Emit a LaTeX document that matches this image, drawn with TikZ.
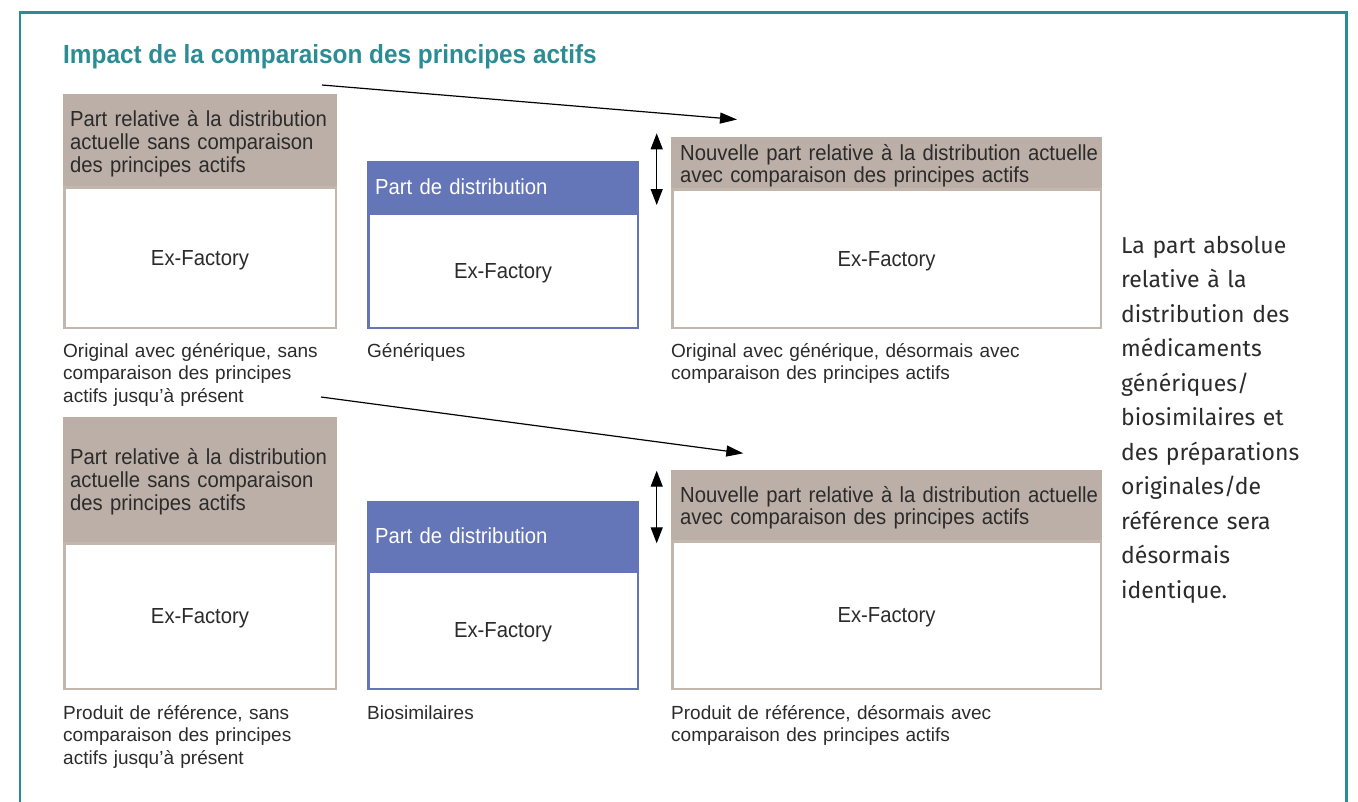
\documentclass[tikz,border=0pt]{standalone}
\usepackage{fontspec}
\setmainfont[FakeStretch=0.93]{Liberation Sans}
\newfontfamily\capfont{Liberation Sans}
\newfontfamily\sidefont{Fira Sans}
\usetikzlibrary{arrows.meta}

\definecolor{frameteal}{HTML}{2B8C93}
\definecolor{hdrbrown}{HTML}{BCAFA7}
\definecolor{edgebrown}{HTML}{C2B6AD}
\definecolor{hdrblue}{HTML}{6475B8}
\definecolor{inkgray}{HTML}{2B2B2B}

\begin{document}
\begin{tikzpicture}[x=1pt,y=-1pt,
  hdrbox/.style={rectangle, anchor=north west, inner sep=0pt, outer sep=0pt, fill=#1},
  bodybox/.style={rectangle, anchor=north, draw=#1, line width=2.5pt, fill=white,
    inner sep=0pt, text depth=0pt, text=inkgray, font=\fontsize{21.8}{24}\selectfont},
  hdrtext/.style={anchor=base west, inner sep=0pt, text width=440pt, align=left,
    text=inkgray, font=\fontsize{21.8}{23.2}\selectfont},
  newtext/.style={hdrtext, font=\fontsize{21.8}{22}\selectfont},
  bluetext/.style={hdrtext, text=white},
  caption/.style={anchor=base west, inner sep=0pt, text width=400pt, align=left,
    text=inkgray, font=\capfont\fontsize{19}{22.7}\selectfont},
  conn/.style={-{Triangle[length=17pt,width=11pt]}, line width=1.2pt, draw=black},
  gap/.style={{Triangle[length=16pt,width=12pt]}-{Triangle[length=16pt,width=12pt]},
    line width=1.2pt, draw=black}
]
\useasboundingbox (0,0) rectangle (1358,801);

% outer frame, open at the bottom
\draw[frameteal, line width=2.5pt] (20,810) -- (20,12.5) -- (1346.5,12.5) -- (1346.5,810);

% title
\node[anchor=base west, inner sep=0pt, text=frameteal,
  font=\fontsize{26.2}{28}\selectfont\bfseries] (title) at (63,63.3)
  {Impact de la comparaison des principes actifs};

% ---------- upper row: originals / generics ----------
\node[hdrbox=hdrbrown, minimum width=274pt, minimum height=92pt] (hdrA) at (63,94) {};
\node[bodybox=edgebrown, minimum width=271.5pt, minimum height=140.5pt] (bodyA) at (hdrA.south) {Ex-Factory};
\node[hdrtext] (txtA) at (70,126)
  {Part relative à la distribution\\actuelle sans comparaison\\des principes actifs};

\node[hdrbox=hdrblue, minimum width=272pt, minimum height=51.5pt] (hdrB) at (367,161) {};
\node[bodybox=hdrblue, minimum width=269.5pt, minimum height=114pt] (bodyB) at (hdrB.south) {Ex-Factory};
\node[bluetext] (txtB) at (375,194) {Part de distribution};

\node[hdrbox=hdrbrown, minimum width=431pt, minimum height=51pt] (hdrC) at (671,137) {};
\node[bodybox=edgebrown, minimum width=428.5pt, minimum height=138.5pt] (bodyC) at (hdrC.south) {Ex-Factory};
\node[newtext] (txtC) at (680,160)
  {Nouvelle part relative à la distribution actuelle\\avec comparaison des principes actifs};

\node[caption] (capA) at (63,357)
  {Original avec générique, sans\\comparaison des principes\\actifs jusqu’à présent};
\node[caption] (capB) at (367,357) {Génériques};
\node[caption] (capC) at (671,357)
  {Original avec générique, désormais avec\\comparaison des principes actifs};

\coordinate (arrUpS) at (322,85);
\coordinate (arrUpE) at (737,119.5);
\draw[conn] (arrUpS) -- (arrUpE);
\coordinate (gapUpT) at (656.7,133.3);
\coordinate (gapUpB) at (656.7,205);
\draw[gap] (gapUpT) -- (gapUpB);

% ---------- lower row: reference products / biosimilars ----------
\node[hdrbox=hdrbrown, minimum width=274pt, minimum height=125pt] (hdrD) at (63,417) {};
\node[bodybox=edgebrown, minimum width=271.5pt, minimum height=145.5pt] (bodyD) at (hdrD.south) {Ex-Factory};
\node[hdrtext] (txtD) at (70,464)
  {Part relative à la distribution\\actuelle sans comparaison\\des principes actifs};

\node[hdrbox=hdrblue, minimum width=272pt, minimum height=69pt] (hdrE) at (367,501) {};
\node[bodybox=hdrblue, minimum width=269.5pt, minimum height=117.5pt] (bodyE) at (hdrE.south) {Ex-Factory};
\node[bluetext] (txtE) at (375,543) {Part de distribution};

\node[hdrbox=hdrbrown, minimum width=431pt, minimum height=70pt] (hdrF) at (671,470) {};
\node[bodybox=edgebrown, minimum width=428.5pt, minimum height=147.5pt] (bodyF) at (hdrF.south) {Ex-Factory};
\node[newtext] (txtF) at (680,502.7)
  {Nouvelle part relative à la distribution actuelle\\avec comparaison des principes actifs};

\node[caption] (capD) at (63,719)
  {Produit de référence, sans\\comparaison des principes\\actifs jusqu’à présent};
\node[caption] (capE) at (367,719) {Biosimilaires};
\node[caption] (capF) at (671,719)
  {Produit de référence, désormais avec\\comparaison des principes actifs};

\coordinate (arrLoS) at (321,397);
\coordinate (arrLoE) at (743.3,453.3);
\draw[conn] (arrLoS) -- (arrLoE);
\coordinate (gapLoT) at (656.7,470.7);
\coordinate (gapLoB) at (656.7,543.3);
\draw[gap] (gapLoT) -- (gapLoB);

% ---------- side note ----------
\node[anchor=base west, inner sep=0pt, text width=220pt, align=left, text=inkgray,
  font=\sidefont\fontsize{23}{34.47}\selectfont] (note) at (1121,253.3)
  {La part absolue\\relative à la\\distribution des\\médicaments\\génériques/\\biosimilaires et\\des préparations\\originales/de\\référence sera\\désormais\\identique.};
\end{tikzpicture}
\end{document}
